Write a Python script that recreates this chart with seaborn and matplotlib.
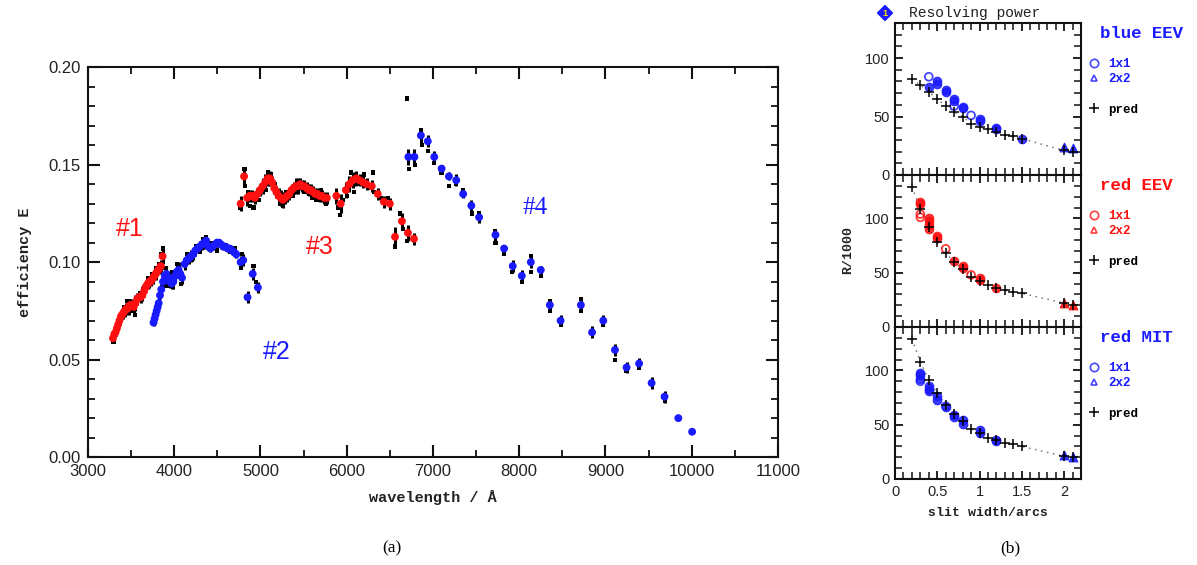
import matplotlib
matplotlib.use("Agg")
import matplotlib.pyplot as plt
from matplotlib.lines import Line2D
from matplotlib.patches import RegularPolygon
from matplotlib.transforms import IdentityTransform
from matplotlib.ticker import MultipleLocator, FormatStrFormatter, FuncFormatter
import pandas as pd
import seaborn as sns

# ---------------- (a) efficiency vs wavelength ----------------
# order #1 (red)
wl1 = [3290, 3305, 3320, 3335, 3350, 3365, 3380, 3395, 3410, 3425,
       3440, 3455, 3470, 3490, 3510, 3530, 3550, 3570, 3590, 3610,
       3630, 3650, 3665, 3680, 3695, 3710, 3725, 3740, 3755, 3770,
       3785, 3800, 3815, 3830, 3845, 3865]
eff1 = [0.061, 0.063, 0.064, 0.066, 0.068, 0.070, 0.072, 0.073, 0.074, 0.075,
        0.076, 0.076, 0.077, 0.078, 0.078, 0.077, 0.079, 0.081, 0.082, 0.082,
        0.083, 0.085, 0.087, 0.088, 0.089, 0.090, 0.090, 0.091, 0.092, 0.093,
        0.094, 0.095, 0.096, 0.097, 0.098, 0.103]
err1 = [0.002, 0.002, 0.002, 0.002, 0.002, 0.002, 0.002, 0.002, 0.003, 0.003,
        0.003, 0.002, 0.004, 0.003, 0.003, 0.003, 0.004, 0.003, 0.002, 0.003,
        0.003, 0.003, 0.002, 0.002, 0.003, 0.003, 0.002, 0.002, 0.003, 0.002,
        0.003, 0.002, 0.002, 0.003, 0.003, 0.004]

# order #2 (blue)
wl2 = [3760, 3772, 3784, 3796, 3808, 3820, 3835, 3850, 3870, 3890,
       3910, 3930, 3950, 3970, 3990, 4010, 4030, 4050, 4070, 4090,
       4120, 4145, 4170, 4195, 4220, 4245, 4270, 4295, 4320, 4345,
       4370, 4395, 4420, 4445, 4470, 4495, 4520, 4545, 4570, 4595,
       4620, 4645, 4670, 4695, 4720, 4770, 4800, 4850, 4910, 4970]
eff2 = [0.069, 0.071, 0.073, 0.075, 0.077, 0.079, 0.083, 0.086, 0.090, 0.093,
        0.094, 0.092, 0.090, 0.089, 0.090, 0.093, 0.095, 0.096, 0.094, 0.092,
        0.099, 0.101, 0.102, 0.103, 0.104, 0.106, 0.107, 0.108, 0.109, 0.110,
        0.111, 0.108, 0.107, 0.108, 0.109, 0.110, 0.110, 0.109, 0.108, 0.108,
        0.107, 0.107, 0.106, 0.105, 0.104, 0.100, 0.101, 0.082, 0.094, 0.087]
err2 = [0.002, 0.002, 0.002, 0.002, 0.002, 0.003, 0.002, 0.003, 0.003, 0.003,
        0.003, 0.003, 0.003, 0.003, 0.004, 0.003, 0.003, 0.004, 0.003, 0.003,
        0.003, 0.002, 0.003, 0.003, 0.003, 0.003, 0.002, 0.003, 0.003, 0.003,
        0.003, 0.002, 0.002, 0.002, 0.002, 0.002, 0.002, 0.002, 0.002, 0.002,
        0.002, 0.002, 0.002, 0.002, 0.002, 0.003, 0.003, 0.003, 0.003, 0.003]

# order #3 (red)
wl3 = [4770, 4810, 4845, 4875, 4905, 4935, 4965, 4995, 5025, 5055,
       5085, 5110, 5135, 5160, 5185, 5210, 5235, 5260, 5285, 5310,
       5335, 5360, 5385, 5410, 5435, 5460, 5485, 5510, 5535, 5560,
       5585, 5610, 5635, 5660, 5685, 5710, 5740, 5770, 5880, 5930,
       5990, 6030, 6070, 6110, 6150, 6190, 6230, 6290, 6360, 6430,
       6500, 6560, 6640, 6710, 6780]
eff3 = [0.130, 0.144, 0.133, 0.134, 0.134, 0.133, 0.135, 0.137, 0.139, 0.141,
        0.143, 0.143, 0.141, 0.138, 0.136, 0.134, 0.133, 0.132, 0.133, 0.134,
        0.135, 0.137, 0.138, 0.139, 0.139, 0.140, 0.139, 0.139, 0.138, 0.137,
        0.137, 0.136, 0.135, 0.135, 0.134, 0.134, 0.133, 0.133, 0.134, 0.130,
        0.137, 0.140, 0.142, 0.143, 0.142, 0.141, 0.140, 0.139, 0.135, 0.131,
        0.130, 0.113, 0.121, 0.115, 0.112]
err3 = [0.004, 0.004, 0.004, 0.003, 0.003, 0.003, 0.003, 0.003, 0.004, 0.004,
        0.004, 0.004, 0.003, 0.003, 0.003, 0.004, 0.004, 0.004, 0.003, 0.003,
        0.003, 0.003, 0.003, 0.004, 0.004, 0.003, 0.003, 0.003, 0.003, 0.003,
        0.003, 0.003, 0.003, 0.003, 0.003, 0.003, 0.003, 0.003, 0.004, 0.005,
        0.004, 0.004, 0.004, 0.004, 0.003, 0.003, 0.003, 0.003, 0.003, 0.003,
        0.003, 0.005, 0.004, 0.004, 0.003]

# order #4 (blue)
wl4 = [6715, 6785, 6860, 6940, 7015, 7100, 7185, 7270, 7350, 7445,
       7535, 7725, 7825, 7925, 8030, 8135, 8250, 8355, 8480, 8715,
       8845, 8975, 9110, 9245, 9390, 9535, 9685, 9845, 10005]
eff4 = [0.154, 0.154, 0.165, 0.162, 0.154, 0.148, 0.144, 0.142, 0.135, 0.129,
        0.123, 0.114, 0.107, 0.098, 0.093, 0.100, 0.096, 0.078, 0.070, 0.078,
        0.064, 0.070, 0.055, 0.046, 0.048, 0.038, 0.031, 0.020, 0.013]
err4 = [0.004, 0.004, 0.004, 0.003, 0.003, 0.002, 0.002, 0.003, 0.002, 0.003,
        0.003, 0.003, 0.002, 0.003, 0.003, 0.003, 0.002, 0.003, 0.003, 0.003,
        0.003, 0.003, 0.003, 0.003, 0.003, 0.003, 0.003, 0.001, 0.001]

# second measurement run (black)
wl_alt = [3295, 3420, 3450, 3480, 3520, 3545, 3600, 3640, 3700, 3740,
          3790, 3820, 3845, 3870, 3880, 3900, 3920, 3950, 3980, 4000,
          4030, 4050, 4080, 4150, 4200, 4250, 4300, 4330, 4370, 4420,
          4500, 4560, 4650, 4700, 4770, 4790, 4920, 4950, 4760, 4815,
          4820, 4860, 4880, 4920, 4980, 5060, 5090, 5120, 5170, 5230,
          5260, 5300, 5380, 5450, 5500, 5560, 5600, 5650, 5700, 5760,
          5900, 5920, 5960, 6000, 6050, 6080, 6120, 6200, 6250, 6300,
          6320, 6400, 6480, 6560, 6620, 6650, 6700, 6700, 6720, 6790,
          6860, 6870, 6940, 7010, 7100, 7190, 7270, 7350, 7440, 7450,
          7530, 7720, 7725, 7820, 7920, 8030, 8135, 8140, 8250, 8360,
          8360, 8480, 8715, 8715, 8975, 9110, 9245, 9390, 9690]
eff_alt = [0.059, 0.077, 0.080, 0.080, 0.075, 0.073, 0.084, 0.086, 0.092, 0.094,
           0.097, 0.099, 0.104, 0.107, 0.097, 0.097, 0.088, 0.093, 0.095, 0.091,
           0.099, 0.097, 0.089, 0.104, 0.101, 0.108, 0.105, 0.112, 0.113, 0.110,
           0.106, 0.108, 0.105, 0.107, 0.097, 0.104, 0.098, 0.090, 0.128, 0.148,
           0.139, 0.136, 0.129, 0.128, 0.132, 0.137, 0.146, 0.145, 0.140, 0.130,
           0.129, 0.136, 0.134, 0.141, 0.136, 0.135, 0.133, 0.132, 0.137, 0.130,
           0.128, 0.124, 0.132, 0.134, 0.146, 0.136, 0.140, 0.145, 0.138, 0.146,
           0.136, 0.133, 0.133, 0.108, 0.125, 0.117, 0.111, 0.184, 0.148, 0.150,
           0.168, 0.160, 0.157, 0.151, 0.146, 0.139, 0.140, 0.137, 0.130, 0.125,
           0.125, 0.116, 0.110, 0.104, 0.095, 0.090, 0.103, 0.095, 0.093, 0.080,
           0.075, 0.068, 0.081, 0.075, 0.068, 0.050, 0.044, 0.046, 0.029]

orders = [("#1", wl1, eff1, err1, "#ff1010"),
          ("#2", wl2, eff2, err2, "#1a1aff"),
          ("#3", wl3, eff3, err3, "#ff1010"),
          ("#4", wl4, eff4, err4, "#1a1aff")]

# ---------------- (b) resolving power vs slit width ----------------
slit_pred = [0.2, 0.3, 0.4, 0.5, 0.6, 0.7, 0.8, 0.9, 1.0, 1.1, 1.2, 1.3, 1.4, 1.5, 2.0, 2.1]

blue_eev_pred = [82, 77, 71, 65, 59, 54, 50, 44, 41, 39, 37, 34, 33, 31, 21, 20]
blue_eev_x = [0.4, 0.5, 0.5, 0.6, 0.6, 0.7, 0.7, 0.8, 0.8, 1.0, 1.0, 1.2, 1.2, 1.5]
blue_eev_R = [75, 80, 78, 73, 71, 65, 63, 58, 57, 48, 46, 40, 39, 31]
blue_eev_open_x = [0.4, 0.7, 0.9]
blue_eev_open_R = [84, 59, 51]
blue_eev_2x2_x = [2.0, 2.1]
blue_eev_2x2_R = [24, 23]

red_eev_pred = [129, 109, 92, 78, 68, 60, 53, 46, 42, 39, 36, 34, 32, 31, 22, 20]
red_eev_x = [0.3, 0.3, 0.4, 0.4, 0.4, 0.4, 0.5, 0.5, 0.7, 0.8, 0.8, 1.0, 1.0, 1.2]
red_eev_R = [115, 113, 100, 98, 94, 90, 84, 82, 61, 56, 54, 45, 43, 36]
red_eev_open_x = [0.3, 0.3, 0.6, 0.9]
red_eev_open_R = [104, 101, 72, 48]
red_eev_2x2_x = [2.0, 2.1]
red_eev_2x2_R = [22, 20]

red_mit_pred = [129, 108, 91, 79, 68, 60, 53, 46, 42, 38, 36, 33, 32, 30, 21, 20]
red_mit_x = [0.3, 0.3, 0.3, 0.4, 0.4, 0.4, 0.5, 0.5, 0.6, 0.7, 0.7, 0.8, 0.8, 1.0, 1.0, 1.2, 1.2]
red_mit_R = [98, 96, 92, 86, 83, 81, 76, 73, 66, 59, 57, 54, 51, 45, 42, 36, 35]
red_mit_open_x = [0.3, 0.6]
red_mit_open_R = [90, 67]
red_mit_2x2_x = [2.0, 2.1]
red_mit_2x2_R = [22, 20]

panels = [
    ("blue EEV", "#1a1aff", (130, 50, 10), blue_eev_pred, blue_eev_x, blue_eev_R,
     blue_eev_open_x, blue_eev_open_R, blue_eev_2x2_x, blue_eev_2x2_R),
    ("red EEV", "#ff1010", (140, 50, 10), red_eev_pred, red_eev_x, red_eev_R,
     red_eev_open_x, red_eev_open_R, red_eev_2x2_x, red_eev_2x2_R),
    ("red MIT", "#1a1aff", (140, 50, 10), red_mit_pred, red_mit_x, red_mit_R,
     red_mit_open_x, red_mit_open_R, red_mit_2x2_x, red_mit_2x2_R),
]

# ---------------- style ----------------
sns.set_theme(style="ticks")
plt.rcParams["font.family"] = ["Liberation Sans", "DejaVu Sans"]
plt.rcParams.update({
    "axes.linewidth": 1.5,
    "axes.edgecolor": "#111111",
    "xtick.direction": "in", "ytick.direction": "in",
    "xtick.top": True, "ytick.right": True,
    "xtick.color": "#111111", "ytick.color": "#111111",
    "xtick.labelcolor": "#222222", "ytick.labelcolor": "#222222",
})
MONO = ["Liberation Mono", "DejaVu Sans Mono"]

FIG_W, FIG_H, DPI = 1197, 565, 100
fig = plt.figure(figsize=(FIG_W / DPI, FIG_H / DPI), dpi=DPI)
fig.patch.set_facecolor("white")

# ---------------- panel (a) ----------------
ax = fig.add_axes([0.0735, 0.191, 0.5764, 0.690])
for name, wl, eff, err, col in orders:
    ax.errorbar(wl, eff, yerr=err, fmt="none", ecolor="black",
                elinewidth=2.2, capsize=0, zorder=2)
alt = pd.DataFrame({"wavelength": wl_alt, "eff": eff_alt})
sns.scatterplot(data=alt, x="wavelength", y="eff", marker="s", s=9,
                color="black", edgecolor="none", linewidth=0, ax=ax, zorder=2)
for name, wl, eff, err, col in orders:
    df = pd.DataFrame({"wavelength": wl, "eff": eff})
    sns.scatterplot(data=df, x="wavelength", y="eff", s=32, color=col,
                    edgecolor="none", linewidth=0, ax=ax, zorder=3)

ax.set_xlim(3000, 11000)
ax.set_ylim(0, 0.20)
ax.xaxis.set_major_locator(MultipleLocator(1000))
ax.xaxis.set_minor_locator(MultipleLocator(500))
ax.yaxis.set_major_locator(MultipleLocator(0.05))
ax.yaxis.set_minor_locator(MultipleLocator(0.01))
ax.yaxis.set_major_formatter(FormatStrFormatter("%.2f"))
ax.tick_params(which="major", length=8.5, width=1.5, labelsize=12, pad=5)
ax.tick_params(which="minor", length=5, width=1.3)
ax.set_xlabel("wavelength / \u00c5", fontfamily=MONO, fontweight="bold",
              fontsize=11, labelpad=8, color="#222222")
ax.set_ylabel("efficiency E", fontfamily=MONO, fontweight="bold",
              fontsize=11, labelpad=12, color="#222222")

ax.text(3490, 0.117, "#1", color="#ff1010", fontsize=18, ha="center", va="center")
ax.text(5190, 0.054, "#2", color="#1a1aff", fontsize=18, ha="center", va="center")
ax.text(5690, 0.108, "#3", color="#ff1010", fontsize=18, ha="center", va="center")
ax.text(8180, 0.128, "#4", color="#1a1aff", fontsize=18, ha="center", va="center",
        fontfamily=["Liberation Serif", "DejaVu Serif"])

# ---------------- panel (b) ----------------
x0, w = 895 / FIG_W, 186 / FIG_W
tops = [23, 175, 327]
h_px = 152
for i, (label, col, (ymax, ymaj, ymin), pred, fx, fR, ox, oR, tx, tR) in enumerate(panels):
    bottom = 1 - (tops[i] + h_px) / FIG_H
    axb = fig.add_axes([x0, bottom, w, h_px / FIG_H])
    pdf = pd.DataFrame({"slit": slit_pred, "R": pred})
    sns.lineplot(data=pdf, x="slit", y="R", sort=False, estimator=None,
                 color="#777777", linestyle=(0, (1, 3)), linewidth=1.1, ax=axb, zorder=1)
    sns.scatterplot(data=pdf, x="slit", y="R", marker="+", s=55, color="black",
                    linewidth=1.1, ax=axb, zorder=4)
    sns.scatterplot(x=fx, y=fR, s=38, color=col, edgecolor=col, linewidth=0.8,
                    alpha=0.85, ax=axb, zorder=3)
    sns.scatterplot(x=ox, y=oR, s=32, facecolor="none", edgecolor=col,
                    linewidth=1.3, alpha=0.8, ax=axb, zorder=3)
    sns.scatterplot(x=tx, y=tR, marker="^", s=40, color=col, edgecolor=col,
                    linewidth=0.8, alpha=0.9, ax=axb, zorder=3)

    axb.set_xlim(0, 2.2)
    axb.set_ylim(0, ymax)
    axb.xaxis.set_major_locator(MultipleLocator(0.5))
    axb.xaxis.set_minor_locator(MultipleLocator(0.1))
    axb.yaxis.set_major_locator(MultipleLocator(ymaj))
    axb.yaxis.set_minor_locator(MultipleLocator(ymin))
    axb.tick_params(which="major", length=6, width=1.3, labelsize=10.5, pad=4)
    axb.tick_params(which="minor", length=5, width=1.1)
    axb.set_ylabel("")
    axb.set_xlabel("")
    axb.yaxis.set_major_formatter(
        FuncFormatter(lambda v, p, m=ymax: "" if v >= m else f"{v:g}"))
    if i < 2:
        axb.tick_params(labelbottom=False)
    else:
        axb.xaxis.set_major_formatter(FuncFormatter(lambda v, p: f"{v:g}"))
        axb.set_xlabel("slit width/arcs", fontfamily=MONO, fontweight="bold",
                       fontsize=9.5, labelpad=6, color="#222222")

    axb.text(1.10, 0.93, label, transform=axb.transAxes, color=col,
             fontfamily=MONO, fontweight="bold", fontsize=12.5, ha="left", va="center")
    handles = [
        Line2D([], [], marker="o", linestyle="none", markerfacecolor="none",
               markeredgecolor=col, markersize=6, markeredgewidth=1.2, alpha=0.8),
        Line2D([], [], marker="^", linestyle="none", markerfacecolor="none",
               markeredgecolor=col, markersize=5, markeredgewidth=1.2, alpha=0.8),
        Line2D([], [], linestyle="none"),
        Line2D([], [], marker="+", linestyle="none", color="black",
               markersize=7, markeredgewidth=1.1),
    ]
    leg = axb.legend(handles, ["1x1", "2x2", "", "pred"], loc="upper left",
                     bbox_to_anchor=(1.0, 0.81), frameon=False, handlelength=1.0,
                     handletextpad=0.7, labelspacing=0.25, borderpad=0,
                     prop={"family": MONO, "weight": "bold", "size": 9})
    for t, c in zip(leg.get_texts(), [col, col, col, "black"]):
        t.set_color(c)

# panel (b) badge, title and y label
badge = RegularPolygon((885, FIG_H - 13), numVertices=4, radius=7.5, orientation=0,
                       facecolor="#1a1aff", edgecolor="#1a1aff",
                       transform=IdentityTransform(), figure=fig)
fig.patches.append(badge)
fig.text(885 / FIG_W, 1 - 13 / FIG_H, "1", color="#ffe000", fontsize=6.5,
         ha="center", va="center", fontweight="bold")
fig.text(909 / FIG_W, 1 - 13 / FIG_H, "Resolving power", fontfamily=MONO,
         fontsize=10.5, ha="left", va="center", color="#222222")
fig.text(848 / FIG_W, 1 - 250 / FIG_H, "R/1000", fontfamily=MONO, fontweight="bold",
         fontsize=9.5, rotation=90, ha="center", va="center", color="#222222")

# captions
fig.text(392 / FIG_W, 1 - 548 / FIG_H, "(a)", fontfamily=["Liberation Serif"],
         fontsize=12.5, ha="center", va="center", color="black")
fig.text(1010 / FIG_W, 1 - 548 / FIG_H, "(b)", fontfamily=["Liberation Serif"],
         fontsize=12.5, ha="center", va="center", color="black")

fig.savefig("out.png", dpi=DPI, facecolor="white")
